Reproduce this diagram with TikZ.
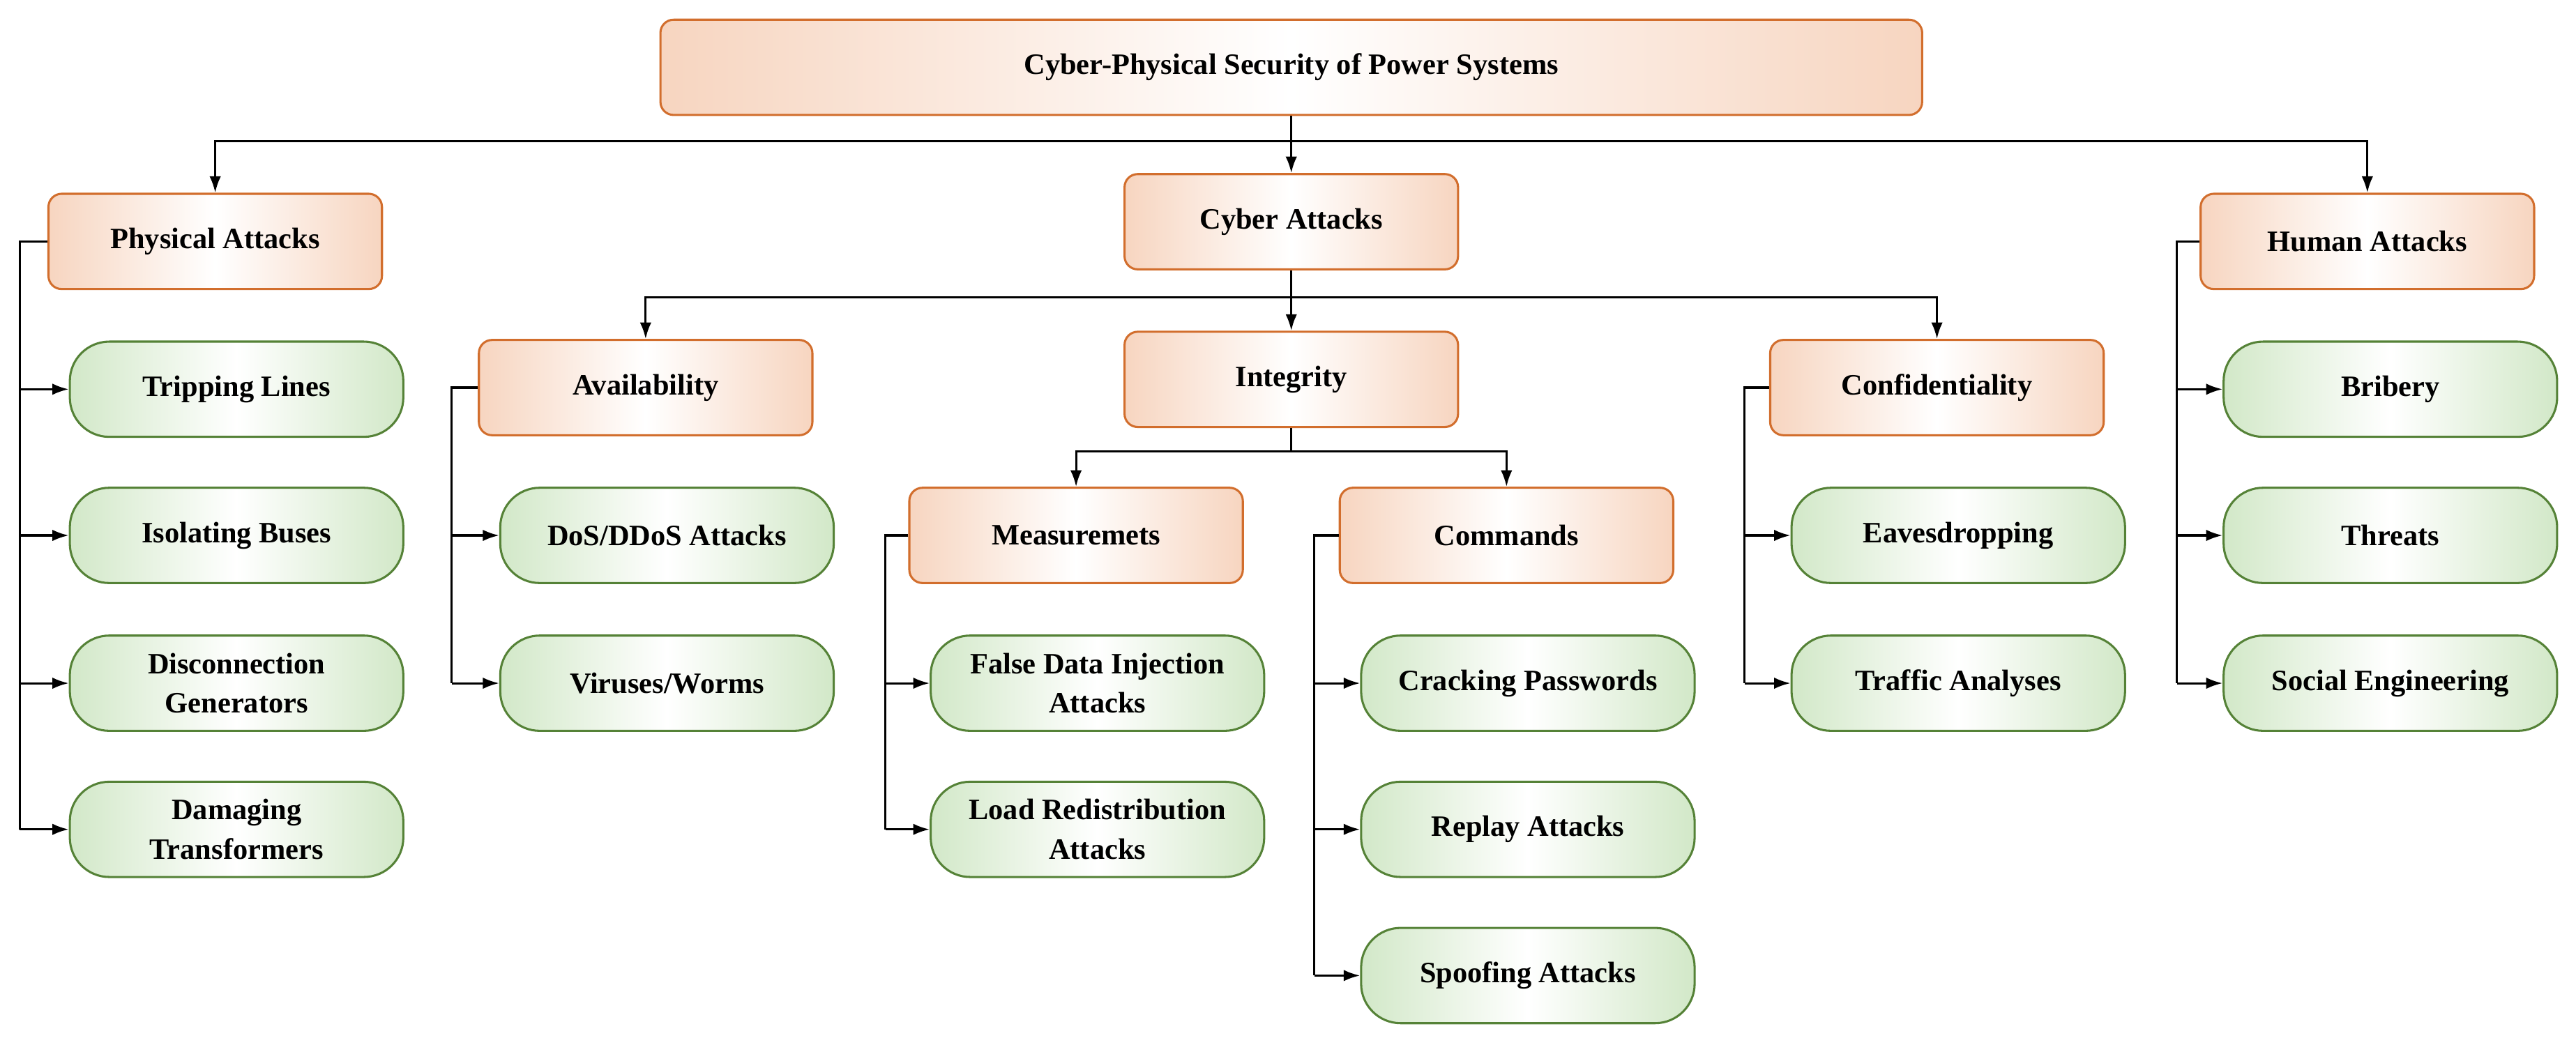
\documentclass[tikz,border=0pt]{standalone}
\usepackage{fontspec}
\setmainfont{Liberation Serif}
\usetikzlibrary{arrows.meta}
\definecolor{orl}{RGB}{247,213,192}
\definecolor{ord}{RGB}{210,110,45}
\definecolor{grl}{RGB}{210,232,200}
\definecolor{grd}{RGB}{85,130,55}
\begin{document}
\begin{tikzpicture}[x=1pt,y=-1pt,
  base/.style={minimum width=203pt,minimum height=58pt,align=center,font=\fontsize{18}{24}\selectfont\bfseries,line width=1.3pt,inner sep=2pt},
  cat/.style={base,draw=ord,rounded corners=8pt,left color=orl,right color=orl,middle color=white},
  leaf/.style={base,draw=grd,rounded corners=24pt,left color=grl,right color=grl,middle color=white},
  ln/.style={line width=1.3pt},
  ar/.style={ln,-{Latex[length=10pt,width=7pt]}}]
\useasboundingbox (0,0) rectangle (1568,632);
\node[cat,minimum width=768pt] (root) at (786,41) {Cyber-Physical Security of Power Systems};
\node[cat] (phy) at (131,147) {Physical Attacks};
\node[cat] (cyb) at (786,135) {Cyber Attacks};
\node[cat] (hum) at (1441,147) {Human Attacks};
\draw[ln] (root.south) -- (786,86) coordinate (t1);
\draw[ar] (t1) -| (phy.north);
\draw[ar] (t1) -- (cyb.north);
\draw[ar] (t1) -| (hum.north);
% physical
\node[leaf] (p1) at (144,237) {Tripping Lines};
\node[leaf] (p2) at (144,326) {Isolating Buses};
\node[leaf] (p3) at (144,416) {Disconnection\\Generators};
\node[leaf] (p4) at (144,505) {Damaging\\Transformers};
\draw[ln] (phy.west) -- (12,147) coordinate (pv) -- (12,505);
\foreach \n in {p1,p2,p3,p4} \draw[ar] (pv |- \n.west) -- (\n.west);
% cyber
\node[cat] (ava) at (393,236) {Availability};
\node[cat] (int) at (786,231) {Integrity};
\node[cat] (con) at (1179,236) {Confidentiality};
\draw[ln] (cyb.south) -- (786,181) coordinate (t2);
\draw[ar] (t2) -| (ava.north);
\draw[ar] (t2) -- (int.north);
\draw[ar] (t2) -| (con.north);
\node[leaf] (a1) at (406,326) {DoS/DDoS Attacks};
\node[leaf] (a2) at (406,416) {Viruses/Worms};
\draw[ln] (ava.west) -- (275,236) coordinate (av) -- (275,416);
\foreach \n in {a1,a2} \draw[ar] (av |- \n.west) -- (\n.west);
\node[cat] (mea) at (655,326) {Measuremets};
\node[cat] (com) at (917,326) {Commands};
\draw[ln] (int.south) -- (786,275) coordinate (t3);
\draw[ar] (t3) -| (mea.north);
\draw[ar] (t3) -| (com.north);
\node[leaf] (m1) at (668,416) {False Data Injection\\Attacks};
\node[leaf] (m2) at (668,505) {Load Redistribution\\Attacks};
\draw[ln] (mea.west) -- (539,326) coordinate (mv) -- (539,505);
\foreach \n in {m1,m2} \draw[ar] (mv |- \n.west) -- (\n.west);
\node[leaf] (c1) at (930,416) {Cracking Passwords};
\node[leaf] (c2) at (930,505) {Replay Attacks};
\node[leaf] (c3) at (930,594) {Spoofing Attacks};
\draw[ln] (com.west) -- (800,326) coordinate (cv) -- (800,594);
\foreach \n in {c1,c2,c3} \draw[ar] (cv |- \n.west) -- (\n.west);
\node[leaf] (f1) at (1192,326) {Eavesdropping};
\node[leaf] (f2) at (1192,416) {Traffic Analyses};
\draw[ln] (con.west) -- (1062,236) coordinate (fv) -- (1062,416);
\foreach \n in {f1,f2} \draw[ar] (fv |- \n.west) -- (\n.west);
% human
\node[leaf] (h1) at (1455,237) {Bribery};
\node[leaf] (h2) at (1455,326) {Threats};
\node[leaf] (h3) at (1455,416) {Social Engineering};
\draw[ln] (hum.west) -- (1325,147) coordinate (hv) -- (1325,416);
\foreach \n in {h1,h2,h3} \draw[ar] (hv |- \n.west) -- (\n.west);
\end{tikzpicture}
\end{document}
